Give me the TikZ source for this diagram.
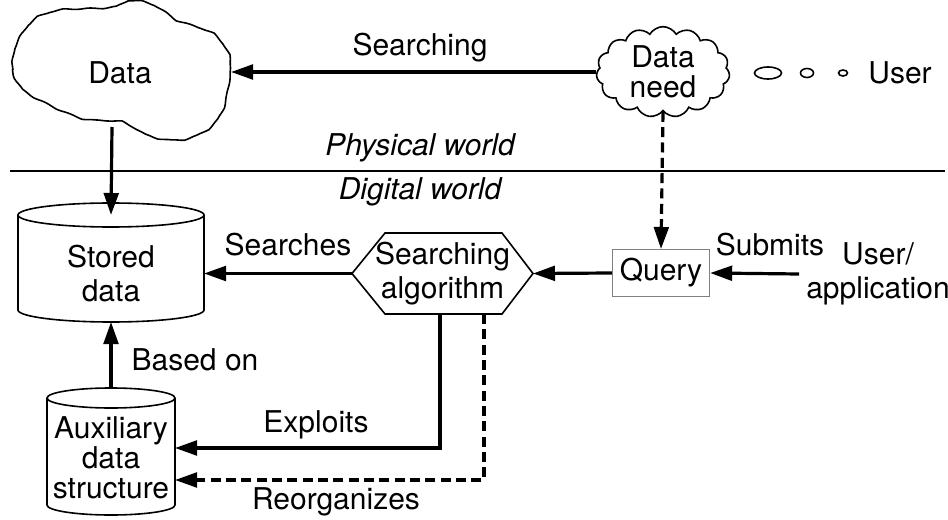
\documentclass[tikz,border=0pt]{standalone}
\usepackage{fontspec}
\setmainfont{TeX Gyre Heros}
\usetikzlibrary{arrows.meta,shapes.symbols,calc,decorations.pathmorphing}

\begin{document}
\begin{tikzpicture}[x=0.75pt,y=-0.75pt,
  txt/.style={font=\fontsize{22.5}{26}\selectfont, inner sep=0pt, align=center},
  tight/.style={font=\fontsize{22.5}{22.5}\selectfont, inner sep=0pt, align=center},
  world/.style={font=\fontsize{22.5}{26}\selectfont\itshape, inner sep=0pt},
  arr/.style={-{Triangle[length=16.5pt,width=11pt]}, line width=2.4pt},
  dsh/.style={arr, dash pattern=on 7.5pt off 4pt},
  outline/.style={line width=1.2pt},
  box/.style={inner sep=0pt, outer sep=0pt}]
\useasboundingbox (0,0) rectangle (948,520);

% physical / digital divider
\draw[line width=1.1pt] (10,171) -- (945,171);
\node[world] (phys) at (420,148) {Physical world};
\node[world] (digi) at (420,192) {Digital world};

% data cloud (physical world), with a gently wavy outline
\draw[outline, decorate, decoration={snake, amplitude=0.45pt, segment length=20pt}]
  plot[smooth cycle, tension=0.6] coordinates {
  (20,93) (13,70) (17,50) (33,27) (57,17) (100,15) (117,13) (133,7)
  (157,13) (177,27) (213,40) (230,63) (230,83) (223,117) (207,137)
  (180,147) (150,143) (127,130) (110,127) (83,125) (47,110)};
\node[txt] (data) at (120,73) {Data};
\coordinate (dataR) at (231,71);
\coordinate (dataB) at (112,127);

% user's data need (thought cloud)
\node[cloud, draw, outline, cloud puffs=15, cloud puff arc=120, cloud ignores aspect,
      minimum width=100pt, minimum height=68pt, tight] (need) at (663,72) {Data\\need};
\draw[line width=1.2pt] (768,73) ellipse [x radius=13.5, y radius=6];
\draw[line width=1.2pt] (807,73) ellipse [x radius=6.5, y radius=4.5];
\draw[line width=1.2pt] (843,73) ellipse [x radius=4.5, y radius=3];
\node[txt] (user) at (900,73) {User};

% searching in the physical world
\draw[arr] (need.west) -- (need.west -| dataR);
\node[txt] (lsearching) at (420,48) {Searching};

% stored data cylinder
\node[box, minimum width=139.5pt, minimum height=89.25pt] (stored) at (111,262.5) {};
\draw[outline] ($(stored.north west)+(0,12)$) -- ($(stored.south west)+(0,-12)$)
  arc[start angle=180, end angle=0, x radius=93, y radius=12]
  -- ($(stored.north east)+(0,12)$)
  arc[start angle=0, end angle=-180, x radius=93, y radius=12]
  arc[start angle=180, end angle=0, x radius=93, y radius=12];
\node[txt] (storedtxt) at ($(stored.center)+(0,11)$) {Stored\\data};

% auxiliary data structure cylinder
\node[box, minimum width=96pt, minimum height=95.25pt] (aux) at (111,451.5) {};
\draw[outline] ($(aux.north west)+(0,10)$) -- ($(aux.south west)+(0,-10)$)
  arc[start angle=180, end angle=0, x radius=64, y radius=10]
  -- ($(aux.north east)+(0,10)$)
  arc[start angle=0, end angle=-180, x radius=64, y radius=10]
  arc[start angle=180, end angle=0, x radius=64, y radius=10];
\node[tight] (auxtxt) at ($(aux.center)+(0,6.5)$) {Auxiliary\\data\\structure};

% searching algorithm hexagon
\node[box, minimum width=135.75pt, minimum height=60.75pt] (algo) at (442.5,273.5) {};
\draw[outline] (algo.west) -- ($(algo.north west)+(33,0)$) -- ($(algo.north east)+(-31,0)$)
  -- (algo.east) -- ($(algo.south east)+(-31,0)$) -- ($(algo.south west)+(33,0)$) -- cycle;
\node[txt] (algotxt) at (algo.center) {Searching\\algorithm};

% query box
\node[draw=gray, line width=1pt, minimum width=72.75pt, minimum height=35pt, txt] (query) at (661,273) {Query};

% user / application
\node[txt] (app) at (878,274) {User/\\application};

% connectors
\draw[arr] (dataB) -- ($(stored.north)+(0,12)$);
\draw[dsh] (need.south) -- (query.north);
\draw[arr] ($(app.west)+(-7,0)$) -- (query.east);
\node[txt] (lsubmits) at (770,245) {Submits};
\draw[arr] (query.west) -- (algo.east);
\draw[arr] (algo.west) -- (algo.west -| stored.east);
\node[txt] (lsearches) at (288,245) {Searches};
\draw[arr] (aux.north) -- (aux.north |- stored.south);
\node[txt] (lbased) at (195,360) {Based on};
\draw[arr] ($(algo.south)+(-2.5,0)$) |- ($(aux.east)+(0,-3.5)$);
\node[txt] (lexploits) at (316,425) {Exploits};
\draw[dsh] ($(algo.south)+(41.5,0)$) |- ($(aux.east)+(0,28.5)$);
\node[txt] (lreorg) at (336,502) {Reorganizes};
\end{tikzpicture}
\end{document}
